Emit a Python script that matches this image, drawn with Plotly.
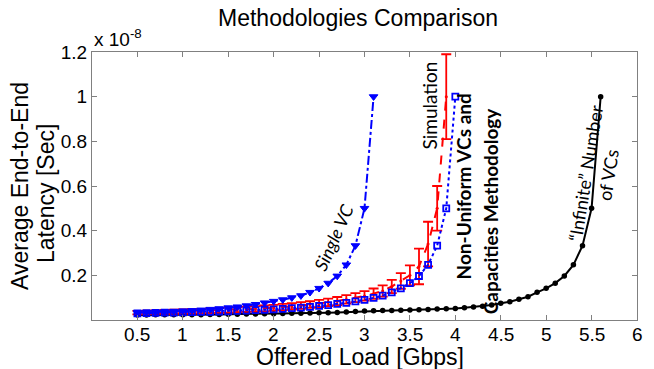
import plotly.graph_objects as go

# Offered load [Gbps]
load_single = [0.5,0.6,0.7,0.8,0.9,1.0,1.1,1.2,1.3,1.4,1.5,1.6,1.7,1.8,1.9,2.0,2.1,2.2,2.3,2.4,2.5,2.6,2.7,2.8,2.9,3.0,3.1]
lat_single = [0.033,0.034,0.035,0.036,0.038,0.040,0.042,0.045,0.048,0.051,0.055,0.059,0.064,0.070,0.077,0.084,0.091,0.100,0.109,0.124,0.142,0.165,0.197,0.247,0.333,0.50,1.00]

load_nonuni = [0.5,0.6,0.7,0.8,0.9,1.0,1.1,1.2,1.3,1.4,1.5,1.6,1.7,1.8,1.9,2.0,2.1,2.2,2.3,2.4,2.5,2.6,2.7,2.8,2.9,3.0,3.1,3.2,3.3,3.4,3.5,3.6,3.7,3.8,3.9,4.0]
lat_nonuni = [0.030,0.031,0.032,0.033,0.033,0.034,0.035,0.036,0.037,0.038,0.039,0.041,0.042,0.044,0.046,0.048,0.050,0.053,0.055,0.059,0.063,0.067,0.072,0.077,0.083,0.090,0.099,0.109,0.124,0.142,0.165,0.197,0.247,0.333,0.50,1.00]

load_sim = [0.5,0.6,0.7,0.8,0.9,1.0,1.1,1.2,1.3,1.4,1.5,1.6,1.7,1.8,1.9,2.0,2.1,2.2,2.3,2.4,2.5,2.6,2.7,2.8,2.9,3.0,3.1,3.2,3.3,3.4,3.5,3.6,3.7,3.8,3.9]
lat_sim = [0.033,0.034,0.035,0.036,0.037,0.038,0.039,0.040,0.041,0.043,0.044,0.046,0.048,0.050,0.052,0.055,0.058,0.061,0.065,0.069,0.074,0.079,0.085,0.092,0.100,0.108,0.118,0.130,0.150,0.175,0.200,0.240,0.340,0.500,1.000]
err_sim = [0.008,0.008,0.008,0.009,0.009,0.009,0.010,0.010,0.010,0.011,0.011,0.011,0.012,0.012,0.013,0.013,0.014,0.014,0.015,0.015,0.016,0.017,0.018,0.019,0.020,0.021,0.023,0.025,0.030,0.035,0.045,0.080,0.100,0.100,0.190]

load_inf = [0.5,0.6,0.7,0.8,0.9,1.0,1.1,1.2,1.3,1.4,1.5,1.6,1.7,1.8,1.9,2.0,2.1,2.2,2.3,2.4,2.5,2.6,2.7,2.8,2.9,3.0,3.1,3.2,3.3,3.4,3.5,3.6,3.7,3.8,3.9,4.0,4.1,4.2,4.3,4.4,4.5,4.6,4.7,4.8,4.9,5.0,5.1,5.2,5.3,5.4,5.5,5.6]
lat_inf = [0.022,0.022,0.023,0.023,0.023,0.024,0.024,0.024,0.025,0.025,0.026,0.026,0.027,0.027,0.028,0.028,0.029,0.030,0.030,0.031,0.032,0.033,0.034,0.036,0.038,0.040,0.041,0.042,0.043,0.044,0.045,0.046,0.047,0.049,0.050,0.052,0.055,0.058,0.062,0.067,0.075,0.082,0.093,0.104,0.124,0.142,0.165,0.197,0.247,0.333,0.50,1.00]

x_ticks = [0.5,1,1.5,2,2.5,3,3.5,4,4.5,5,5.5,6]
x_ticktext = ["0.5","1","1.5","2","2.5","3","3.5","4","4.5","5","5.5","6"]
y_ticks = [0.2,0.4,0.6,0.8,1.0,1.2]
y_ticktext = ["0.2","0.4","0.6","0.8","1","1.2"]

fig = go.Figure()
fig.add_trace(go.Scatter(x=load_inf, y=lat_inf, mode="lines+markers",
    line=dict(color="black", width=2), marker=dict(symbol="circle", size=5.5, color="black")))
fig.add_trace(go.Scatter(x=load_sim, y=lat_sim, mode="lines+markers",
    line=dict(color="red", width=2, dash="dash"),
    marker=dict(symbol="circle", size=3, color="red"),
    error_y=dict(type="data", array=err_sim, color="red", thickness=1.8, width=5)))
fig.add_trace(go.Scatter(x=load_nonuni, y=lat_nonuni, mode="lines+markers",
    line=dict(color="blue", width=2, dash="dot"),
    marker=dict(symbol="square-open", size=6, color="blue", line=dict(width=1.8))))
fig.add_trace(go.Scatter(x=load_single, y=lat_single, mode="lines+markers",
    line=dict(color="blue", width=2, dash="dashdot"),
    marker=dict(symbol="triangle-down", size=7.5, color="blue", line=dict(width=1, color="blue"))))

axis_common = dict(showline=True, linecolor="#808080", linewidth=1, mirror="allticks",
                   ticks="inside", ticklen=5, tickcolor="#808080", showgrid=False, zeroline=False,
                   tickfont=dict(family="Liberation Sans, Arial", size=19, color="black"))
fig.update_xaxes(range=[0, 6], tickvals=x_ticks, ticktext=x_ticktext, showticklabels=False, **axis_common)
fig.update_yaxes(range=[0, 1.2], tickvals=y_ticks, ticktext=y_ticktext, **axis_common)

# x tick labels drawn just below the axis (as in the reference)
for v, t in zip(x_ticks, x_ticktext):
    fig.add_annotation(x=v, xref="x", y=(320-334)/268, yref="paper", text=t, showarrow=False,
                       xanchor="center", yanchor="middle",
                       font=dict(family="Liberation Sans, Arial", size=19, color="black"))

anno_font = "Lato, Noto Sans, sans-serif"
annos = [
    dict(text="Methodologies Comparison", xref="paper", yref="paper", x=(358-92)/545, y=(320-18)/268,
         font=dict(family="Liberation Sans, Arial", size=23, color="black")),
    dict(text="Offered Load [Gbps]", xref="paper", yref="paper", x=(360-92)/545, y=(320-357)/268,
         font=dict(family="Liberation Sans, Arial", size=23, color="black")),
    dict(text="Average End-to-End", xref="paper", yref="paper", x=(20-92)/545, y=(320-186)/268,
         textangle=-90, font=dict(family="Liberation Sans, Arial", size=23, color="black")),
    dict(text="Latency [Sec]", xref="paper", yref="paper", x=(46-92)/545, y=(320-194)/268,
         textangle=-90, font=dict(family="Liberation Sans, Arial", size=23, color="black")),
    dict(text="x 10<sup>-8</sup>", xref="paper", yref="paper", x=0.0, y=1.0, xanchor="left", yanchor="bottom",
         font=dict(family="Liberation Sans, Arial", size=19, color="black")),
    dict(text="<i>Single VC</i>", x=2.66, y=0.372, textangle=-66,
         font=dict(family=anno_font, size=18, color="black")),
    dict(text="Simulation", x=3.72, y=0.96, textangle=-90,
         font=dict(family=anno_font, size=19, color="black")),
    dict(text="<b>Non-Uniform VCs and</b>", x=4.09, y=0.596, textangle=-90,
         font=dict(family=anno_font, size=19, color="black")),
    dict(text="<b>Capacities Methodology</b>", x=4.39, y=0.49, textangle=-90,
         font=dict(family=anno_font, size=19, color="black")),
    dict(text="\u201cInfinite\u201d Number", x=5.43, y=0.66, textangle=-81,
         font=dict(family=anno_font, size=18, color="black")),
    dict(text="of VCs", x=5.68, y=0.65, textangle=-81,
         font=dict(family=anno_font, size=18, color="black")),
]
for a in annos:
    a.setdefault("xref", "x")
    a.setdefault("yref", "y")
    a.setdefault("xanchor", "center")
    a.setdefault("yanchor", "middle")
    a["showarrow"] = False
    fig.add_annotation(**a)

fig.update_layout(width=654, height=369, margin=dict(l=92, r=17, t=52, b=49),
                  plot_bgcolor="white", paper_bgcolor="white", showlegend=False)
fig.write_html("out.html")
